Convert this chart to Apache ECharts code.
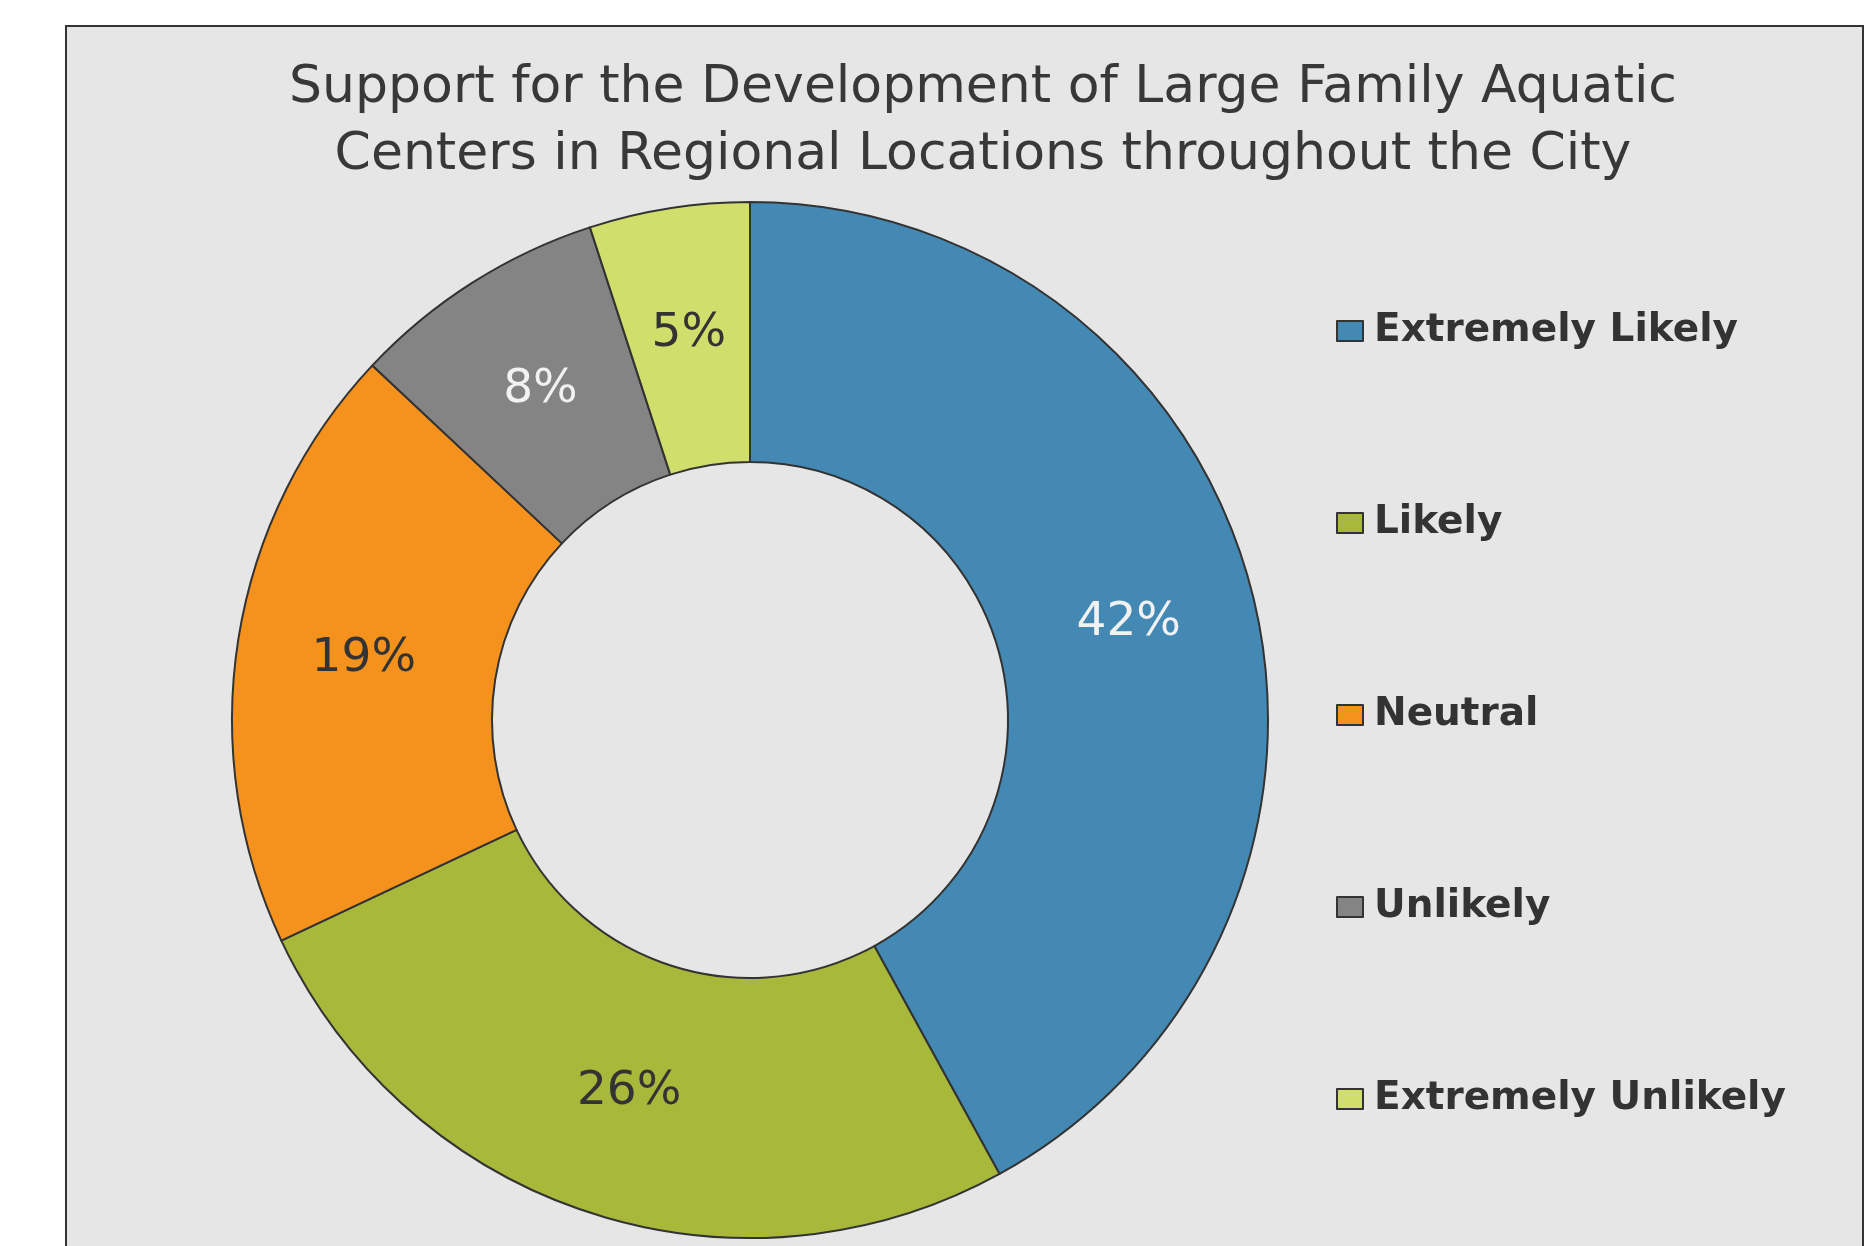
<!DOCTYPE html>
<html>
<head>
<meta charset="utf-8">
<script src="https://cdn.jsdelivr.net/npm/echarts@6/dist/echarts.min.js"></script>
<style>
html,body{margin:0;padding:0;background:#ffffff;}
#main{width:1870px;height:1246px;}
</style>
</head>
<body>
<div id="main"></div>
<script>
const categories = ['Extremely Likely', 'Likely', 'Neutral', 'Unlikely', 'Extremely Unlikely'];
const values = [42, 26, 19, 8, 5];
const colors = ['#4389b4', '#a7b83a', '#f5921e', '#848484', '#d0de6c'];
const labelColors = ['#f2f2f2', '#333333', '#333333', '#f2f2f2', '#333333'];
const titleText = 'Support for the Development of Large Family Aquatic\nCenters in Regional Locations throughout the City';

const chart = echarts.init(document.getElementById('main'));
const data = categories.map((name, i) => ({
  name: name,
  value: values[i],
  itemStyle: { color: colors[i] },
  label: { color: labelColors[i] }
}));

chart.setOption({
  animation: false,
  backgroundColor: '#ffffff',
  graphic: [{
    type: 'rect',
    z: -10,
    silent: true,
    shape: { x: 66, y: 26, width: 1797, height: 1300 },
    style: { fill: '#e6e6e6', stroke: '#333333', lineWidth: 2 }
  }],
  title: {
    text: titleText,
    left: 978,
    top: 50,
    textAlign: 'center',
    textStyle: {
      fontFamily: 'DejaVu Sans',
      fontSize: 52,
      fontWeight: 'normal',
      color: '#383838',
      lineHeight: 67
    }
  },
  legend: {
    orient: 'vertical',
    left: 1331,
    top: 303,
    itemWidth: 26,
    itemHeight: 20,
    itemGap: 146,
    icon: 'rect',
    selectedMode: false,
    data: categories,
    textStyle: {
      fontFamily: 'DejaVu Sans',
      fontSize: 39,
      fontWeight: 'bold',
      color: '#333333',
      lineHeight: 46,
      padding: [0, 0, 0, 6]
    }
  },
  series: [{
    type: 'pie',
    center: [750, 720],
    radius: [258, 518],
    startAngle: 90,
    clockwise: true,
    avoidLabelOverlap: false,
    silent: true,
    itemStyle: { borderColor: '#333333', borderWidth: 2 },
    label: {
      show: true,
      position: 'inside',
      formatter: '{c}%',
      fontFamily: 'DejaVu Sans',
      fontSize: 47,
      fontWeight: 'normal'
    },
    labelLine: { show: false },
    emphasis: { disabled: true },
    data: data
  }]
});
</script>
</body>
</html>
